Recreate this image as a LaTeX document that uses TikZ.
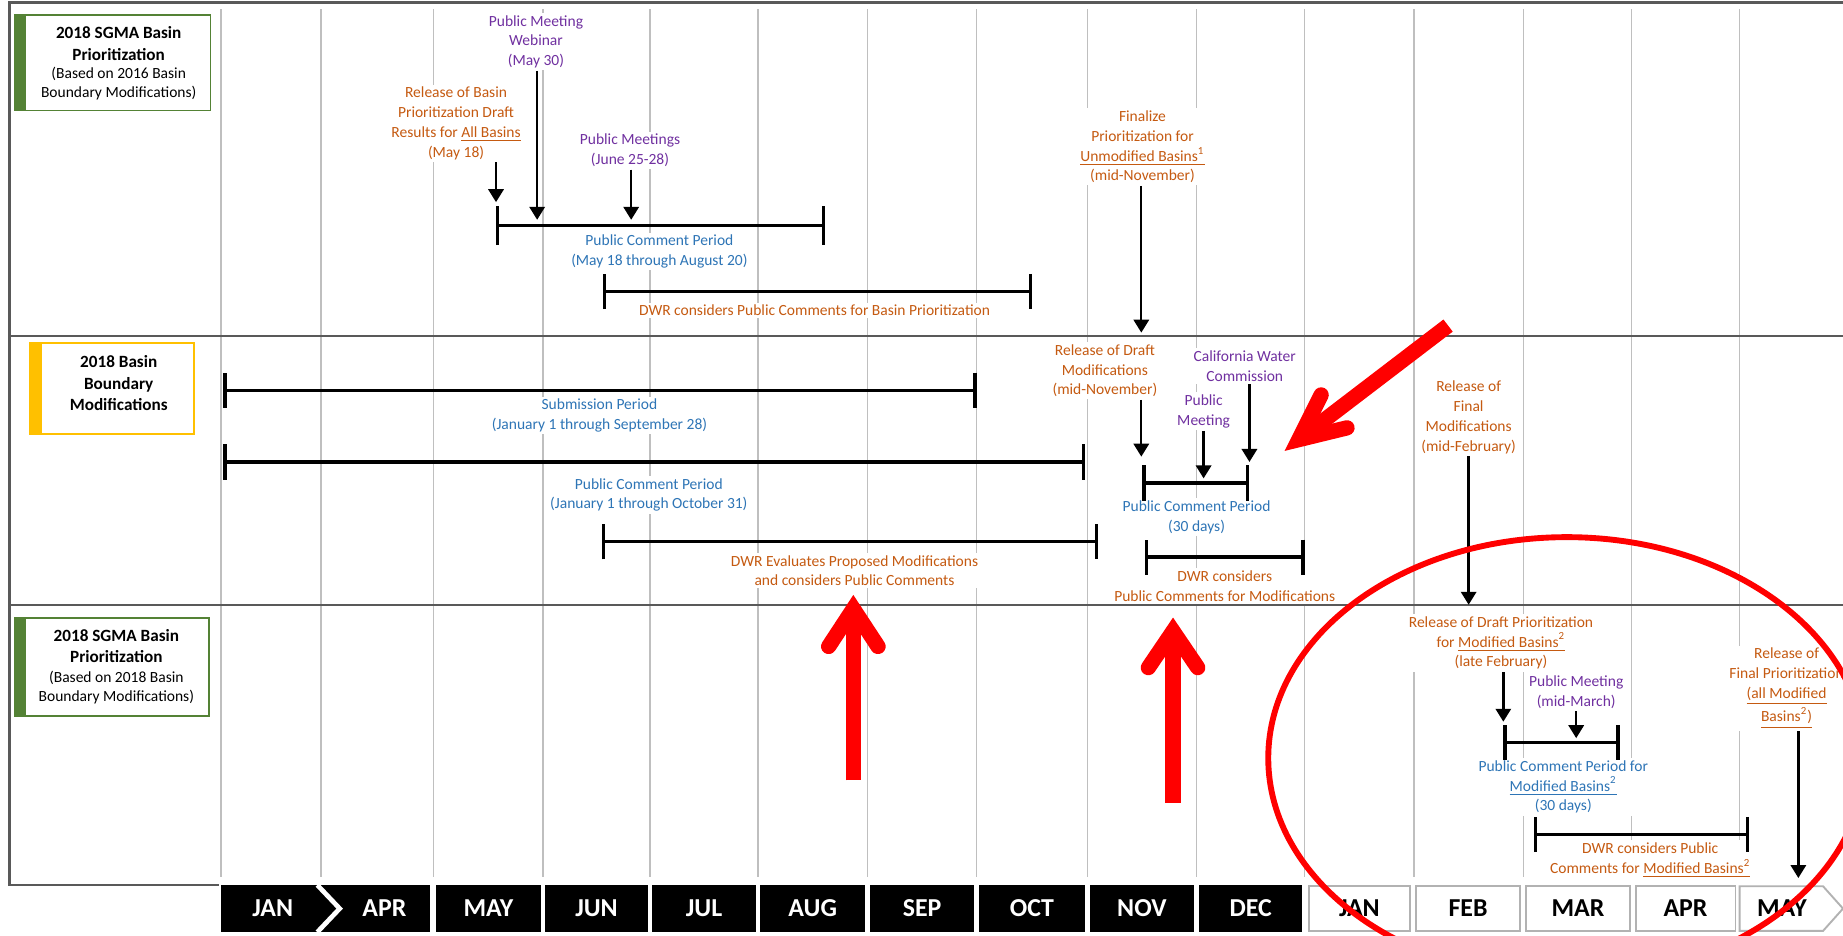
\documentclass[tikz,border=0pt]{standalone}
\usepackage{fontspec}
\setmainfont{Carlito}
\usetikzlibrary{arrows.meta}

\definecolor{txorange}{RGB}{197,90,17}
\definecolor{txpurple}{RGB}{112,48,160}
\definecolor{txblue}{RGB}{46,117,182}
\definecolor{boxgreen}{RGB}{84,130,53}
\definecolor{boxgold}{RGB}{255,192,0}
\definecolor{gridgray}{RGB}{191,191,191}
\definecolor{framegray}{RGB}{89,89,89}

\begin{document}
\begin{tikzpicture}[
    x=0.5pt, y=-0.5pt,
    note/.style={font=\fontsize{6.6}{8.4}\selectfont, align=center, fill=white, inner sep=1pt},
    orangenote/.style={note, text=txorange},
    purplenote/.style={note, text=txpurple},
    bluenote/.style={note, text=txblue},
    title/.style={font=\fontsize{7.3}{9}\selectfont\bfseries, align=center, inner sep=0pt},
    subtitle/.style={font=\fontsize{6.6}{8.2}\selectfont, align=center, inner sep=0pt},
    gridline/.style={gridgray, line width=0.6pt},
    frameline/.style={framegray, line width=1pt},
    event/.style={-{Triangle[width=6.5pt,length=5.5pt]}, line width=1pt},
    span/.style={{Bar[width=15pt]}-{Bar[width=15pt]}, line width=1.4pt},
    redmark/.style={red, line width=6.5pt},
    monthtext/.style={font=\fontsize{11}{11}\selectfont\bfseries, inner sep=0pt},
    darkmonth/.style={monthtext, fill=black, text=white, minimum height=20pt},
    lightmonth/.style={monthtext, fill=white, draw=gray!60, line width=0.8pt, minimum height=19pt}
]
    \useasboundingbox (0,0) rectangle (1568,796);
    \fill[white] (0,0) rectangle (1568,796);
    \clip (0,0) rectangle (1568,796);

    % grid and frame
    \foreach \x in {188,273,369,462,553,645,738,831,925,1018,1110,1203,1296,1388,1480}
        \draw[gridline] (\x,8) -- (\x,746);
    \draw[frameline] (1570,2) -- (8,2) -- (8,753) -- (186,753);
    \draw[frameline] (8,286) -- (1570,286);
    \draw[frameline] (8,515) -- (1570,515);

    % row labels
    \draw[boxgreen, line width=0.7pt] (13,13) rectangle (179,94);
    \fill[boxgreen] (13,13) rectangle (22,94);
    \node[title] (sgmaold) at (101,37) {2018 SGMA Basin\\Prioritization};
    \node[subtitle] (sgmaoldsub) at (101,71) {(Based on 2016 Basin\\Boundary Modifications)};

    \draw[boxgold, line width=0.7pt] (25,292) rectangle (165,369);
    \fill[boxgold] (25,292) rectangle (36,369);
    \node[title] (boundary) at (101,326) {2018 Basin\\Boundary\\Modifications};

    \draw[boxgreen, line width=0.7pt] (13,526) rectangle (178,609);
    \fill[boxgreen] (13,526) rectangle (22,609);
    \node[title] (sgmanew) at (99,550) {2018 SGMA Basin\\Prioritization};
    \node[subtitle] (sgmanewsub) at (99,585) {(Based on 2018 Basin\\Boundary Modifications)};

    % first row
    \node[purplenote] (webinar) at (456,35.5) {Public Meeting\\Webinar\\(May 30)};
    \node[orangenote] (draftall) at (388,105) {Release of Basin\\Prioritization Draft\\Results for \underline{All Basins}\\(May 18)};
    \node[purplenote] (junemeet) at (536,128) {Public Meetings\\(June 25-28)};
    \node[bluenote] (pcone) at (561,214) {Public Comment Period\\(May 18 through August 20)};
    \node[orangenote] (dwrone) at (693,264) {DWR considers Public Comments for Basin Prioritization};
    \node[orangenote] (finalunmod) at (972,125) {Finalize\\Prioritization for\\\underline{Unmodified Basins\textsuperscript{1}}\\(mid-November)};

    \coordinate (pconeL) at (422,192);
    \coordinate (pconeR) at (702,192);
    \coordinate (dwroneL) at (513,248);
    \coordinate (dwroneR) at (878,248);
    \coordinate (webinartip) at (457,187);
    \coordinate (draftalltip) at (422,172);
    \coordinate (junemeettip) at (537,187);
    \coordinate (finalunmodtip) at (971,283);

    \draw[event] (webinar.south -| webinartip) -- (webinartip);
    \draw[event] (draftall.south -| draftalltip) -- (draftalltip);
    \draw[event] (junemeet.south -| junemeettip) -- (junemeettip);
    \draw[event] (finalunmod.south -| finalunmodtip) -- (finalunmodtip);
    \draw[span, {Bar[width=16.5pt]}-{Bar[width=16.5pt]}] (pconeL) -- (pconeR);
    \draw[span] (dwroneL) -- (dwroneR);

    % second row
    \node[bluenote] (submit) at (510,353.5) {Submission Period\\(January 1 through September 28)};
    \node[bluenote] (pctwo) at (552,421) {Public Comment Period\\(January 1 through October 31)};
    \node[orangenote] (dwrtwo) at (727,485.5) {DWR Evaluates Proposed Modifications\\and considers Public Comments};
    \node[orangenote] (draftmods) at (940,315.5) {Release of Draft\\Modifications\\(mid-November)};
    \node[purplenote] (cwc) at (1059,311.5) {California Water\\Commission};
    \node[purplenote] (novmeet) at (1024,350) {Public\\Meeting};
    \node[bluenote] (pcthree) at (1018,440) {Public Comment Period\\(30 days)};
    \node[orangenote] (dwrthree) at (1042,498.5) {DWR considers\\Public Comments for Modifications};
    \node[orangenote] (finalmods) at (1249.5,355) {Release of\\Final\\Modifications\\(mid-February)};

    \coordinate (submitL) at (190,332);
    \coordinate (submitR) at (831,332);
    \coordinate (pctwoL) at (190,393);
    \coordinate (pctwoR) at (923,393);
    \coordinate (dwrtwoL) at (512,461);
    \coordinate (dwrtwoR) at (934,461);
    \coordinate (pcthreeL) at (972,411);
    \coordinate (pcthreeR) at (1063,411);
    \coordinate (dwrthreeL) at (974,474);
    \coordinate (dwrthreeR) at (1110,474);
    \coordinate (draftmodstip) at (971,388.5);
    \coordinate (cwctip) at (1063,393);
    \coordinate (novmeettip) at (1024,407);
    \coordinate (finalmodstip) at (1249.5,514.5);

    \draw[span] (submitL) -- (submitR);
    \draw[span] (pctwoL) -- (pctwoR);
    \draw[span] (dwrtwoL) -- (dwrtwoR);
    \draw[span] (pcthreeL) -- (pcthreeR);
    \draw[span] (dwrthreeL) -- (dwrthreeR);
    \draw[event] (draftmods.south -| draftmodstip) -- (draftmodstip);
    \draw[event] (cwc.south -| cwctip) -- (cwctip);
    \draw[event] (novmeet.south -| novmeettip) -- (novmeettip);
    \draw[event] (finalmods.south -| finalmodstip) -- (finalmodstip);

    % third row
    \node[orangenote] (draftprior) at (1277,547) {Release of Draft Prioritization\\for \underline{Modified Basins\textsuperscript{2}}\\(late February)};
    \node[purplenote] (marmeet) at (1341,589) {Public Meeting\\(mid-March)};
    \node[bluenote] (pcfour) at (1330,669.5) {Public Comment Period for\\\underline{Modified Basins\textsuperscript{2}}\\(30 days)};
    \node[orangenote] (dwrfour) at (1404,732) {DWR considers Public\\Comments for \underline{Modified Basins\textsuperscript{2}}};
    \node[orangenote] (finalprior) at (1520,585.5) {Release of\\Final Prioritization\\\underline{(all Modified}\\\underline{Basins\textsuperscript{2})}};

    \coordinate (pcfourL) at (1279,632);
    \coordinate (pcfourR) at (1378,632);
    \coordinate (dwrfourL) at (1305,710);
    \coordinate (dwrfourR) at (1488,710);
    \coordinate (draftpriortip) at (1279,614);
    \coordinate (marmeettip) at (1341,628);
    \coordinate (finalpriortip) at (1530,747);

    \draw[span] (pcfourL) -- (pcfourR);
    \draw[span] (dwrfourL) -- (dwrfourR);
    \draw[event] (draftprior.south -| draftpriortip) -- (draftpriortip);
    \draw[event] (marmeet.south -| marmeettip) -- (marmeettip);
    \draw[event] (finalprior.south -| finalpriortip) -- (finalpriortip);

    % month bar
    \fill[black] (188,753) rectangle (366,793);
    \draw[white, line width=2pt] (270,753) -- (289,773) -- (270,793);
    \node[monthtext, text=white] (janold) at (232,773) {JAN};
    \node[monthtext, text=white] (aprold) at (327,773) {APR};
    \node[darkmonth, minimum width=44.5pt] (mayold) at (415.5,773) {MAY};
    \node[darkmonth, minimum width=43.5pt] (junold) at (507.5,773) {JUN};
    \node[darkmonth, minimum width=44pt] (julold) at (599,773) {JUL};
    \node[darkmonth, minimum width=44.5pt] (augold) at (691.5,773) {AUG};
    \node[darkmonth, minimum width=44.5pt] (sepold) at (784.5,773) {SEP};
    \node[darkmonth, minimum width=45pt] (octold) at (878,773) {OCT};
    \node[darkmonth, minimum width=44.5pt] (novold) at (971.5,773) {NOV};
    \node[darkmonth, minimum width=44pt] (decold) at (1064,773) {DEC};
    \node[lightmonth, minimum width=43pt] (jannew) at (1156.5,773) {JAN};
    \node[lightmonth, minimum width=44.5pt] (febnew) at (1249,773) {FEB};
    \node[lightmonth, minimum width=44pt] (marnew) at (1342.5,773) {MAR};
    \node[lightmonth, minimum width=42.5pt] (aprnew) at (1434,773) {APR};
    \draw[fill=white, draw=gray!60, line width=0.8pt] (1480,754) -- (1551,754) -- (1568,773) -- (1551,792) -- (1480,792) -- cycle;
    \node[monthtext] (maynew) at (1516,773) {MAY};

    % red marks
    \draw[redmark] (1232,277) -- (1105,374);
    \draw[redmark, line cap=round, line join=miter] (1124,336) -- (1105,374) -- (1146,364);
    \draw[redmark] (726,664) -- (726,518);
    \draw[redmark, line cap=round, line join=miter] (705,550) -- (726,518) -- (747,550);
    \draw[redmark] (998,683) -- (998,537);
    \draw[redmark, line cap=round, line join=miter] (977,568) -- (998,537) -- (1019,568);
    \draw[red, line width=2.5pt] (1333,645) ellipse [x radius=127pt, y radius=94pt];
\end{tikzpicture}
\end{document}
